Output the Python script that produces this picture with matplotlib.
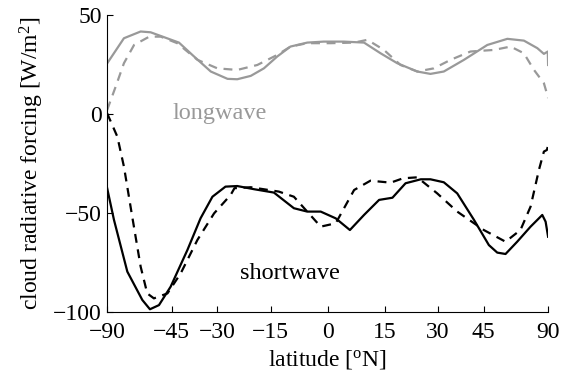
import numpy as np
import matplotlib
matplotlib.use("Agg")
import matplotlib.pyplot as plt

plt.rcParams['font.family'] = ['Liberation Serif', 'DejaVu Serif']
plt.rcParams['mathtext.fontset'] = 'custom'
plt.rcParams['mathtext.rm'] = 'Liberation Serif'
plt.rcParams['mathtext.it'] = 'Liberation Serif'
plt.rcParams['mathtext.default'] = 'rm'

# longwave, model (solid) and observations (dashed)
lw_lat = [-90, -67.5, -58, -53.4, -42.4, -37.3, -32, -27, -24.2, -20.4, -16.8, -13.2,
          -9.7, -5.3, -1, 4.2, 9.5, 13.9, 18.4, 24, 27.8, 31.8, 38.2, 46.4, 54.6,
          62.9, 72, 78.8, 87, 90]
lw_solid = [25.5, 38.2, 41.6, 41.2, 36, 29, 21.4, 17.7, 17.5, 19.2, 23, 29,
            34, 36, 36.5, 36.5, 36, 30.6, 25.6, 21.4, 20.2, 21.4, 27.3, 34.8, 37.9,
            37, 33.2, 30.3, 31.5, 24.7]

lwd_lat = [-90, -74, -67.5, -61.4, -54, -49.2, -43, -36.2, -30, -24.2, -18.6, -13.2,
           -9.7, -5.3, 0.8, 6.9, 10.4, 14.8, 19.3, 24, 28.8, 33.9, 40.4, 49, 56.1,
           62.9, 69.4, 78.8, 87, 90]
lw_dash = [2, 13.8, 25.6, 34.8, 39, 39, 35.7, 27.3, 23, 22.2, 24.7, 29.8,
           34, 35.7, 35.7, 36, 37.4, 32.3, 24.7, 21.4, 23, 27.3, 31.5, 32.3, 34,
           30.6, 22.2, 15.5, 8.7, 8]

# shortwave
sw_lat = [-90, -75.7, -65.3, -57.2, -53.7, -49.9, -45.4, -39.5, -35.2, -31.5, -27.6,
          -24.2, -19.5, -14.1, -8.8, -5.3, -1.8, 2.1, 5.8, 9.5, 13.5, 17.1, 20.7, 25,
          27.8, 31.8, 36, 41.6, 47, 50.3, 53.8, 59.3, 67, 76.8, 81.4, 90]
sw_solid = [-37.5, -53.5, -79.6, -93.9, -98.6, -96.5, -87.2, -68.7, -52.7, -41.8, -36.7,
            -36.4, -38, -39.7, -47.6, -49.3, -49.3, -52.7, -58.6, -51, -43.4, -42.3, -35, -33,
            -33, -34.5, -40.1, -53.5, -66.2, -70, -70.7, -64.5, -56.9, -51, -54.4, -62]

swd_lat = [-90, -72.5, -67.5, -62.4, -58, -54.9, -52, -46.6, -41.8, -36.2, -31, -26.1,
           -25, -20.4, -12.8, -8.8, -1.8, 2.1, 6.9, 11.2, 16.6, 20, 24, 29.8, 36,
           45.1, 53.8, 61, 67, 73.4, 78.8, 84, 88]
sw_dash = [0.3, -11.5, -26.6, -51.9, -77.1, -90.6, -93.1, -90.6, -80.5, -63.6, -50.2, -40.9,
           -37.5, -37, -39.2, -41.8, -56.9, -55.2, -38.4, -33.7, -34.7, -32.5, -32, -40.1, -49.3,
           -58.6, -64.5, -58.6, -46.8, -28.3, -19, -18.2, -16.2]

xticks = [-90, -45, -30, -15, 0, 15, 30, 45, 90]
yticks = [-100, -50, 0, 50]


def fwd(x):
    return np.sin(np.deg2rad(x))


def inv(s):
    return np.rad2deg(np.arcsin(np.clip(s, -1, 1)))


fig = plt.figure(figsize=(5.61, 3.81), dpi=100)
ax = fig.add_axes([0.191, 0.181, 0.786, 0.780])
ax.set_xscale('function', functions=(fwd, inv))

grey = '#999999'
ax.plot(lw_lat, lw_solid, color=grey, lw=1.6)
ax.plot(lwd_lat, lw_dash, color=grey, lw=1.6, dashes=(4, 3))
ax.plot(sw_lat, sw_solid, color='black', lw=1.6)
ax.plot(swd_lat, sw_dash, color='black', lw=1.6, dashes=(4, 3))

ax.text(-29.3, 0, 'longwave', color=grey, fontsize=17.5, ha='center', va='center')
ax.text(-9.9, -80.3, 'shortwave', color='black', fontsize=17.5, ha='center', va='center')

ax.set_xlim(-90, 90)
ax.set_ylim(-100, 50)
ax.set_xticks(xticks)
ax.set_xticklabels([str(t).replace('-', '\u2212') for t in xticks])
ax.set_yticks(yticks)
ax.set_yticklabels([str(t).replace('-', '\u2212') for t in yticks])
ax.minorticks_off()
ax.tick_params(direction='in', length=4, labelsize=17, width=0.8)
ax.tick_params(axis='x', pad=7)
ax.tick_params(axis='y', pad=4)
for s in ['top', 'right']:
    ax.spines[s].set_visible(False)

ax.set_xlabel(r'latitude [$^{\mathrm{o}}$N]', fontsize=17, labelpad=4)
ax.set_ylabel(r'cloud radiative forcing [W/m$^{2}$]', fontsize=17, labelpad=5)

fig.savefig('out.png', dpi=100)
